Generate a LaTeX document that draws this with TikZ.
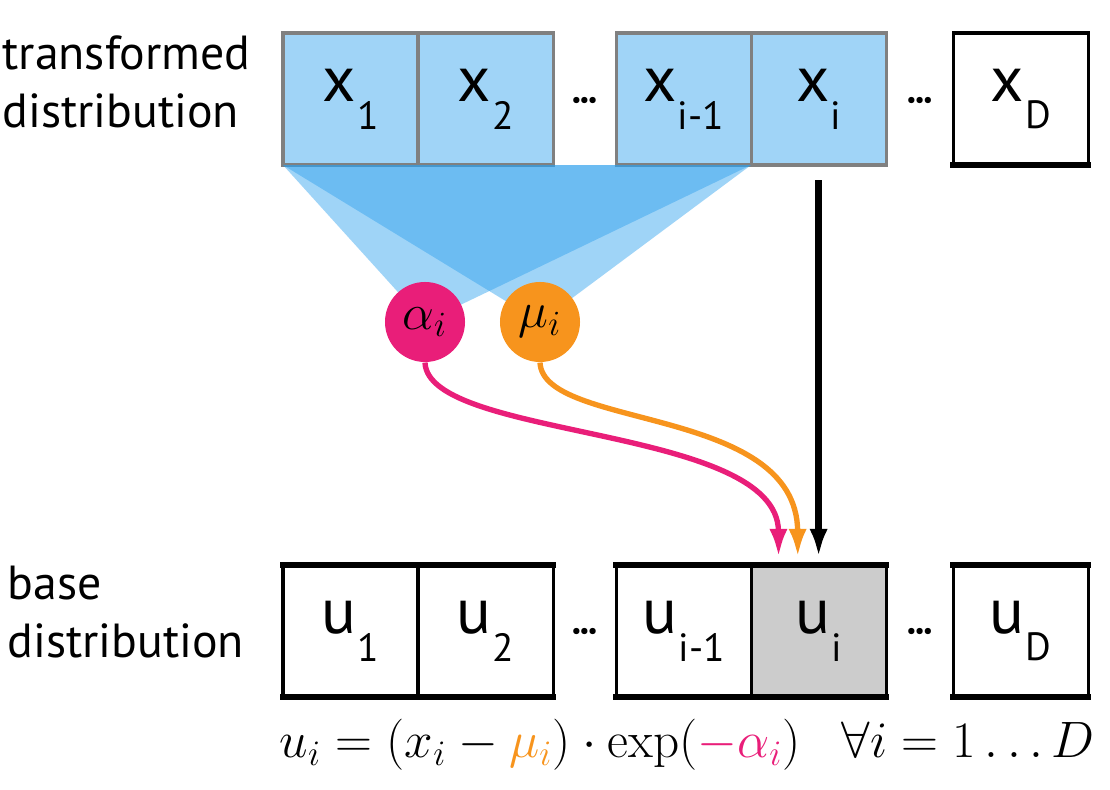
\documentclass[tikz,border=0pt]{standalone}
\usepackage{fix-cm}
\usepackage{amsmath,amssymb}
\usepackage[no-math]{fontspec}
\setmainfont{PT Sans}
\usepackage{xcolor}
\usetikzlibrary{arrows.meta,calc,positioning}

\definecolor{cellblue}{RGB}{160,212,247}
\definecolor{wedgeblue}{RGB}{45,160,237}
\definecolor{alphapink}{RGB}{233,30,121}
\definecolor{muorange}{RGB}{247,148,29}
\definecolor{cellgray}{RGB}{204,204,204}

\newcommand{\cellidx}[2]{#1\kern0.02em\raisebox{-0.43em}{\fontsize{14}{14}\selectfont #2}}
\newcommand{\tightdots}{\textbullet\kern-0.7pt\textbullet\kern-0.7pt\textbullet}

\begin{document}
\begin{tikzpicture}[x=0.0125cm,y=-0.0125cm,
    cell/.style={draw,line width=1.1pt,outer sep=0pt,inner sep=0pt,
      minimum width=1.6875cm,minimum height=1.65cm,
      font=\fontsize{23}{23}\selectfont},
    xcell/.style={cell,draw=black!50,fill=cellblue},
    ucell/.style={cell,draw=black},
    rim/.style={line width=2pt,line cap=rect},
    dots/.style={inner sep=0pt,font=\fontsize{8}{8}\selectfont},
    param/.style={circle,minimum size=1cm,inner sep=0pt,
      font=\fontsize{18}{18}\selectfont},
    wedge/.style={fill=wedgeblue,fill opacity=0.453},
    flow/.style={line width=1.9pt,-{Latex[length=10pt,width=6.5pt]},
      shorten >=0.1cm},
    side/.style={align=left,inner sep=0pt,
      font=\fontsize{17}{20.5}\selectfont}]
    \useasboundingbox (0,0) rectangle (1110,790);

    \node[side,anchor=west] (tlabel) at (2,82)
      {transformed\\distribution};
    \node[side,anchor=west] (blabel) at (7,612)
      {base\\distribution};

    \node[xcell] (x1) at (350.5,99) {\cellidx{x}{1}};
    \node[xcell,right=0pt of x1] (x2) {\cellidx{x}{2}};
    \node[xcell,right=0.7875cm of x2] (xim1) {\cellidx{x}{i-1}};
    \node[xcell,right=0pt of xim1] (xi) {\cellidx{x}{i}};
    \node[cell,right=0.8375cm of xi] (xD) {\cellidx{x}{D}};
    \draw[rim] (xD.south west) -- (xD.south east);
    \node[dots] (xdots1) at ($(x2.east)!0.5!(xim1.west)+(0,3)$) {\tightdots};
    \node[dots] (xdots2) at ($(xi.east)!0.5!(xD.west)+(0,3)$) {\tightdots};

    \node[ucell] (u1) at (350.5,631) {\cellidx{u}{1}};
    \node[ucell,right=0pt of u1] (u2) {\cellidx{u}{2}};
    \node[ucell,right=0.7875cm of u2] (uim1) {\cellidx{u}{i-1}};
    \node[ucell,fill=cellgray,right=0pt of uim1] (ui) {\cellidx{u}{i}};
    \node[ucell,right=0.8375cm of ui] (uD) {\cellidx{u}{D}};
    \draw[rim] (u1.north west) -- (u2.north east)
      (u1.south west) -- (u2.south east)
      (uim1.north west) -- (ui.north east)
      (uim1.south west) -- (ui.south east)
      (uD.north west) -- (uD.north east)
      (uD.south west) -- (uD.south east);
    \node[dots] (udots1) at ($(u2.east)!0.5!(uim1.west)+(0,2)$) {\tightdots};
    \node[dots] (udots2) at ($(ui.east)!0.5!(uD.west)+(0,2)$) {\tightdots};

    \coordinate (acen) at (425,322);
    \coordinate (mcen) at (540,322);
    \fill[wedge] (x1.south west) -- (xim1.south east) -- (acen) -- cycle;
    \fill[wedge] (x1.south west) -- (xim1.south east) -- (mcen) -- cycle;
    \node[param,fill=alphapink] (alpha) at (acen) {$\alpha_i$};
    \node[param,fill=muorange] (mu) at (mcen) {$\mu_i$};

    \draw[flow,alphapink] (alpha.south)
      .. controls (428,440) and (778,425) .. ([xshift=-0.5cm]ui.north);
    \draw[flow,muorange] (mu.south)
      .. controls (543,430) and (797,405) .. ([xshift=-0.26cm]ui.north);
    \draw[flow,black,line width=2.5pt,shorten <=0.19cm] (xi.south) -- (ui.north);

    \node[anchor=base west,inner sep=0pt,font=\fontsize{18.2}{18.2}\selectfont]
      (eq) at (279,758)
      {$u_i = (x_i - {\color{muorange}\mu_i})\cdot\exp({\color{alphapink}-\alpha_i})
        \hspace{0.8em}\forall i = 1\dots D$};
\end{tikzpicture}
\end{document}
